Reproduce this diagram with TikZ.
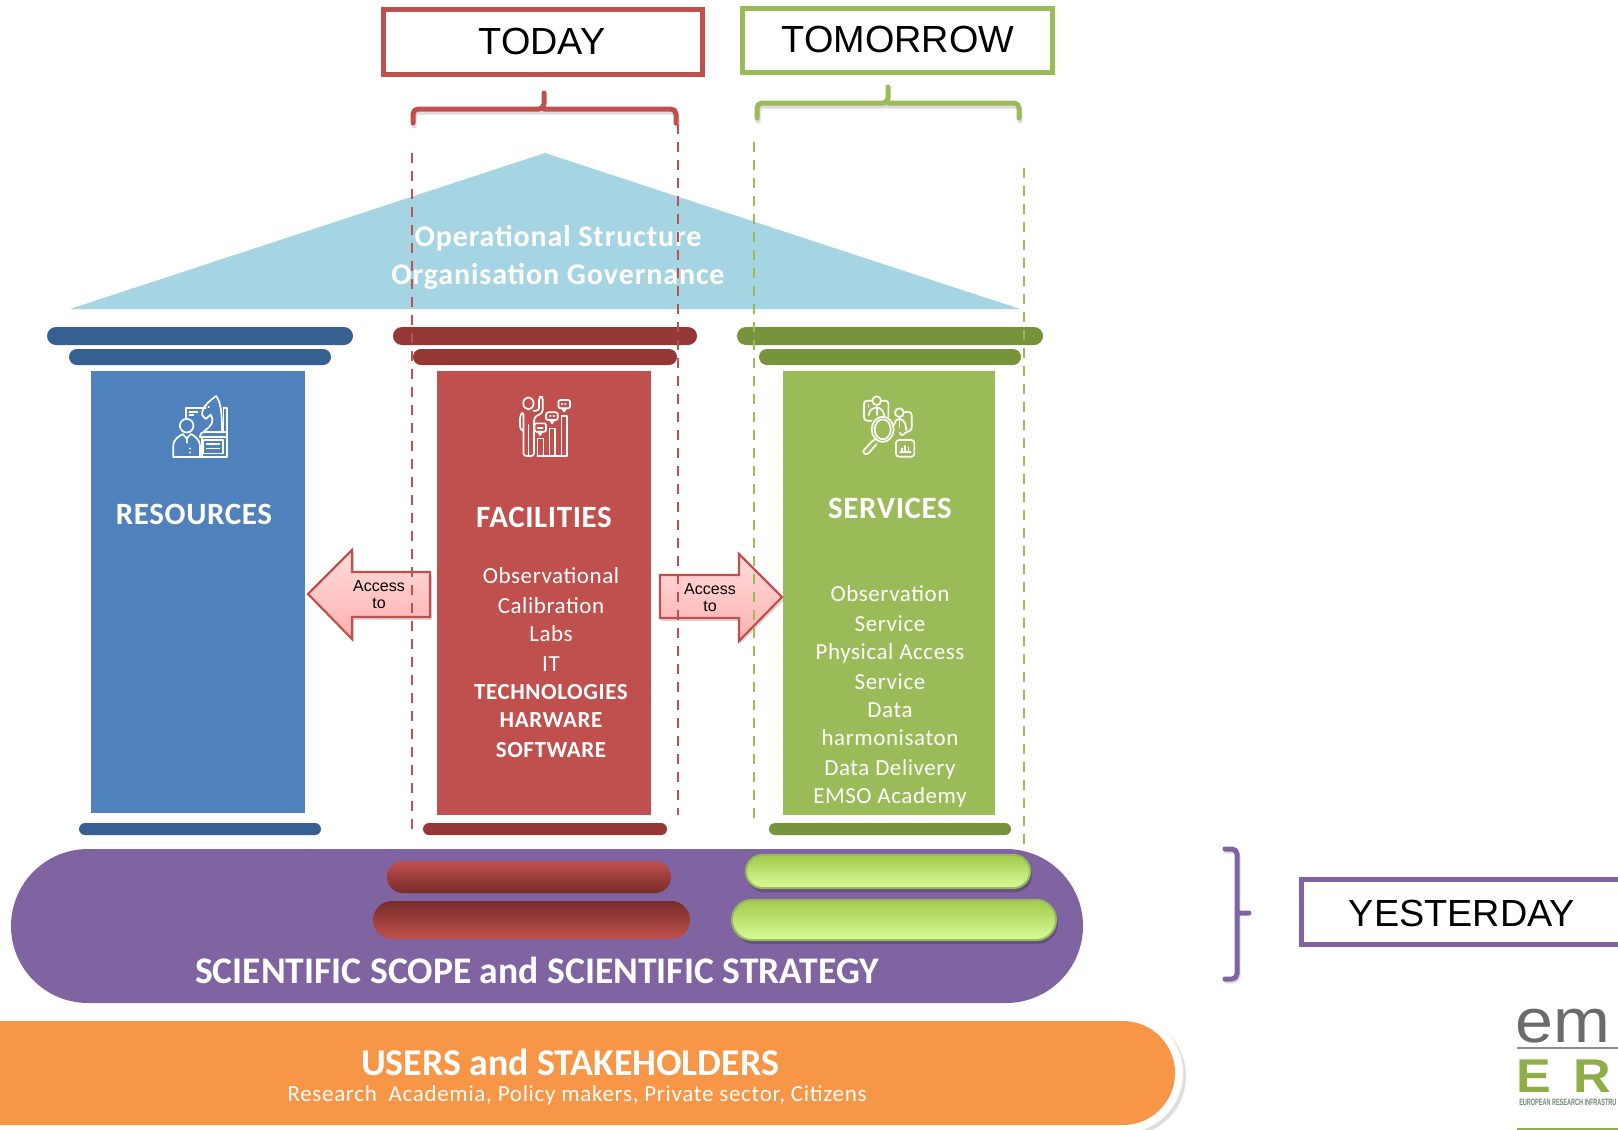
\documentclass[tikz,border=0pt]{standalone}
\usepackage{fontspec}
\setmainfont{Carlito}
\newfontfamily\arialf{Liberation Sans}
\usetikzlibrary{calc}
\definecolor{cblue}{HTML}{4F81BD}
\definecolor{cbluedk}{HTML}{376092}
\definecolor{cred}{HTML}{C0504D}
\definecolor{creddk}{HTML}{953735}
\definecolor{cgreen}{HTML}{9BBB59}
\definecolor{cgreendk}{HTML}{77933C}
\definecolor{cpurple}{HTML}{8064A2}
\definecolor{corange}{HTML}{F79646}
\definecolor{croof}{HTML}{A5D5E2}
\definecolor{arrowtop}{HTML}{FFDCDC}
\definecolor{arrowbot}{HTML}{FFB0B0}
\definecolor{limetop}{HTML}{A2CB4E}
\definecolor{limebot}{HTML}{D8FC98}
\definecolor{redtop}{HTML}{C0504D}
\definecolor{redbot}{HTML}{772C2A}
\definecolor{logogreen}{HTML}{8FAE48}
\definecolor{logosmall}{HTML}{6F8A74}
\newcommand{\pill}[5]{%
  \pgfmathsetmacro{\pillr}{abs(#4-#2)/4}%
  \path[#5,rounded corners=\pillr pt] (#1,#2) rectangle (#3,#4);}
\newcommand{\fs}[1]{\fontsize{#1}{#1}\selectfont}
\tikzset{
  x=0.5pt,y=-0.5pt,
  labelbox/.style={line width=2.5pt,fill=white},
  brace/.style={line width=2.5pt,line cap=round,line join=round,rounded corners=2.5pt},
  braceshadow/.style={brace,draw=black,opacity=0.14},
  guide/.style={line width=0.9pt,dash pattern=on 5pt off 4pt},
  whitetxt/.style={text=white,align=center,inner sep=0pt,font=\fs{11.5}\addfontfeatures{LetterSpace=2.5}},
  boldtxt/.style={text=white,align=center,inner sep=0pt,font=\fs{11.5}\bfseries\addfontfeatures{LetterSpace=2.5}},
  rooftxt/.style={text=white,align=center,inner sep=0pt,font=\fs{15}\bfseries\addfontfeatures{LetterSpace=3}},
  headtxt/.style={text=white,inner sep=0pt,font=\fs{15.5}\bfseries\addfontfeatures{LetterSpace=2}},
  blacktxt/.style={text=black,inner sep=0pt,font=\arialf\fs{18.9}},
  acc/.style={draw=cred,line width=1.1pt,line join=miter,top color=arrowtop,bottom color=arrowbot},
  accshadow/.style={fill=black,opacity=0.15},
  icon/.style={draw=white,line width=0.85pt,line join=round,line cap=round},
  redup/.style={top color=redtop,bottom color=redbot},
  reddn/.style={top color=redbot,bottom color=redtop},
  greenp/.style={draw=cgreen,line width=1pt,top color=limetop,bottom color=limebot},
  pshadow/.style={fill=black,opacity=0.2},
}
\begin{document}
\begin{tikzpicture}
\useasboundingbox (0,0) rectangle (1618,1130);
\clip (0,0) rectangle (1618,1130);
\fill[white] (0,0) rectangle (1618,1130);
% top labels
\draw[labelbox,draw=cred] (383,9) rectangle (702,74);
\node[blacktxt] (today) at (542,41) {TODAY};
\draw[labelbox,draw=cgreen] (742,8) rectangle (1052,72);
\node[blacktxt] (tomorrow) at (898,39) {TOMORROW};
\begin{scope}[shift={(1,3)}]
\draw[braceshadow] (413,123) -- (413,109) -- (676,109) -- (676,123);
\draw[braceshadow] (757,118) -- (757,103) -- (1019,103) -- (1019,118);
\end{scope}
\draw[brace,draw=cred] (413,123) -- (413,109) -- (544,109) -- (544,93) (544,109) -- (676,109) -- (676,123);
\draw[brace,draw=cgreen] (757,118) -- (757,103) -- (888,103) -- (888,87) (888,103) -- (1019,103) -- (1019,118);
% roof
\fill[croof] (70,309) -- (545,153) -- (1020,309) -- cycle;
% columns
\pill{47}{327}{353}{345}{fill=cbluedk}
\pill{69}{349}{331}{365}{fill=cbluedk}
\fill[cblue] (91,371) rectangle (305,813);
\pill{79}{823}{321}{835}{fill=cbluedk}
\pill{393}{327}{697}{345}{fill=creddk}
\pill{413}{349}{677}{365}{fill=creddk}
\fill[cred] (437,371) rectangle (651,815);
\pill{423}{823}{667}{835}{fill=creddk}
\pill{737}{327}{1043}{345}{fill=cgreendk}
\pill{759}{349}{1021}{365}{fill=cgreendk}
\fill[cgreen] (783,371) rectangle (995,815);
\pill{769}{823}{1011}{835}{fill=cgreendk}
% column text
\node[rooftxt] (roofa) at (558,238) {Operational Structure};
\node[rooftxt] (roofb) at (558,276) {Organisation Governance};
\node[headtxt] (res) at (194,514) {RESOURCES};
\node[headtxt] (fac) at (544,517) {FACILITIES};
\node[headtxt] (ser) at (890,508) {SERVICES};
\foreach \t/\y/\n in {Observational/576/a,Calibration/606/b,Labs/634/c,IT/664/d}
  \node[whitetxt] (fac\n) at (551,\y) {\t};
\foreach \t/\y/\n in {TECHNOLOGIES/692/e,HARWARE/720/f,SOFTWARE/750/g}
  \node[boldtxt] (fac\n) at (551,\y) {\t};
\foreach \t/\y/\n in {Observation/594/a,Service/624/b,Physical Access/653/c,Service/682/d,Data/710/e,harmonisaton/738/f,Data Delivery/769/g,EMSO Academy/797/h}
  \node[whitetxt] (ser\n) at (890,\y) {\t};
% arrows
\fill[accshadow] (309,596) -- (354,552) -- (354,575) -- (432,575) -- (432,620) -- (354,620) -- (354,642) -- cycle;
\path[acc] (308,594) -- (352,550) -- (352,572) -- (430,572) -- (430,617) -- (352,617) -- (352,639) -- cycle;
\fill[accshadow] (661,578) -- (740,578) -- (740,556) -- (784,600) -- (740,644) -- (740,621) -- (661,621) -- cycle;
\path[acc] (660,575) -- (739,575) -- (739,554) -- (782,597) -- (739,641) -- (739,618) -- (660,618) -- cycle;
% guides
\draw[guide,draw=cred] (412,153) -- (412,830);
\draw[guide,draw=cred] (678,124) -- (678,815);
\draw[guide,draw=cgreen,line width=0.7pt] (754,142) -- (754,820);
\draw[guide,draw=cgreen,line width=0.7pt] (1024,168) -- (1024,846);
\node[blacktxt,font=\arialf\fs{8},align=center] (accl) at (379,595) {Access\\[0.5pt]to};
\node[blacktxt,font=\arialf\fs{8},align=center] (accr) at (710,598) {Access\\[0.5pt]to};
% purple base
\pill{11}{849}{1083}{1003}{fill=cpurple}
\pill{387}{861}{671}{893}{redup}
\pill{373}{901}{690}{939}{reddn}
\pill{747}{858}{1032}{892}{pshadow}
\pill{734}{903}{1058}{944}{pshadow}
\pill{746}{855}{1030}{888}{greenp}
\pill{732}{900}{1056}{940}{greenp}
\node[text=white,inner sep=0pt,font=\fs{18.8}\bfseries] (sci) at (537,970) {SCIENTIFIC SCOPE and SCIENTIFIC STRATEGY};
% yesterday
\draw[brace,draw=black,opacity=0.12] (1226,851) -- (1238,851) -- (1238,981) -- (1226,981);
\draw[brace,draw=cpurple] (1225,849) -- (1237,849) -- (1237,979) -- (1225,979) (1237,913) -- (1249,913);
\draw[labelbox,draw=cpurple] (1301,879) rectangle (1630,944);
\node[blacktxt] (yest) at (1462,913) {YESTERDAY};
% orange
\pill{-80}{1016}{1186}{1136}{fill=black,opacity=0.13}
\pill{-80}{1013}{1183}{1133}{fill=white}
\pill{-80}{1021}{1175}{1125}{fill=corange}
\node[text=white,inner sep=0pt,font=\fs{18.9}\bfseries] (users) at (570,1062) {USERS and STAKEHOLDERS};
\node[whitetxt,font=\fs{11.5}\addfontfeatures{LetterSpace=3}] (users2) at (577,1095) {Research\ \ Academia, Policy makers, Private sector, Citizens};
% icon 1
\begin{scope}[shift={(140,370)},x=0.1667pt,y=-0.1667pt,icon]
\draw (100,260) -- (260,260) -- (260,113) -- (250,113);
\draw (250,113) -- (250,183);
\draw (185,205) -- (185,260);
\draw (190,210) rectangle (248,250);
\draw (200,222) -- (238,222) (200,235) -- (238,235);
\draw[rounded corners=2pt] (180,200) -- (180,186) -- (260,186);
\draw (180,200) -- (260,200);
\draw (192,183) .. controls (220,165) and (222,148) .. (212,134) -- (197,147) -- (187,136) -- (187,124) .. controls (192,105) and (210,92) .. (228,78) .. controls (240,92) and (246,120) .. (246,183);
\draw (205,112) -- (207,112);
\draw (137,142) -- (137,113) -- (197,113);
\draw (148,125) -- (172,125) (148,136) -- (160,136);
\draw (140,167) circle[radius=3.4pt];
\draw (100,260) -- (100,228) .. controls (100,205) and (120,198) .. (128,192) -- (140,205) -- (153,192) .. controls (165,198) and (180,210) .. (180,228) -- (180,260);
\draw (140,205) -- (140,218);
\draw (150,235) -- (150,236) (150,247) -- (150,248);
\end{scope}
% icon 2
\begin{scope}[shift={(140,370)},x=0.1667pt,y=-0.1667pt,icon]
\draw (1165,100) ellipse[x radius=2.6pt,y radius=3pt];
\draw[rounded corners=1.5pt] (1180,122) -- (1197,122) -- (1197,80) -- (1208,80) -- (1208,128) -- (1182,142) -- (1182,258) -- (1168,258);
\draw[rounded corners=1.5pt] (1168,258) -- (1150,258) -- (1150,125) -- (1140,135) -- (1140,178) -- (1150,183);
\draw (1165,165) -- (1165,258);
\draw (1192,258) -- (1192,205) -- (1210,205) -- (1210,258);
\draw (1228,258) -- (1228,175) -- (1245,175) -- (1245,258);
\draw (1264,258) -- (1264,138) -- (1280,138) -- (1280,258) -- (1192,258);
\draw[rounded corners=1pt] (1255,90) rectangle (1290,115);
\draw (1266,115) -- (1272,124) -- (1278,115);
\draw[rounded corners=1pt] (1218,127) rectangle (1253,150);
\draw (1230,150) -- (1236,160) -- (1242,150);
\draw[rounded corners=1pt] (1183,160) rectangle (1218,185);
\draw (1194,185) -- (1200,195) -- (1206,185);
\draw (1265,102) -- (1267,102) (1275,102) -- (1277,102);
\draw (1230,138) -- (1232,138) (1240,138) -- (1242,138);
\draw (1193,173) -- (1208,173);
\end{scope}
% icon 3
\begin{scope}[shift={(820,380)},x=0.1667pt,y=-0.1667pt,icon]
\draw (188,148) ellipse[x radius=5.5pt,y radius=6.3pt];
\draw (188,148) ellipse[x radius=4pt,y radius=5pt];
\draw (165,178) -- (155,185) -- (130,212) .. controls (130,222) and (138,225) .. (145,220) -- (170,192);
\draw[rounded corners=1.5pt] (228,180) rectangle (283,230);
\draw (240,215) -- (272,215);
\draw (245,215) -- (245,205) (255,215) -- (255,198) (265,215) -- (265,202);
\draw[rounded corners=1.5pt] (155,122) -- (132,122) -- (132,62) -- (155,62);
\draw[rounded corners=1.5pt] (185,62) -- (205,62) -- (205,110);
\draw (170,62) circle[radius=2.2pt];
\draw (146,105) .. controls (148,88) and (160,85) .. (170,82) .. controls (182,85) and (190,90) .. (193,108);
\draw (170,82) -- (170,105);
\draw (145,75) -- (145,80);
\draw (238,98) circle[radius=2.2pt];
\draw (222,135) .. controls (222,125) and (228,120) .. (238,116) .. controls (250,120) and (258,125) .. (258,150);
\draw[rounded corners=1.5pt] (254,96) -- (275,96) -- (275,152) -- (258,155) -- (245,170) -- (240,158);
\draw (238,116) -- (238,140);
\end{scope}
% logo
\node[text=black!58,inner sep=0pt,anchor=base west,xscale=1.1,text depth=0pt,font=\fontspec{Liberation Sans}\fs{31}] (logoa) at (1515,1042) {em};
\draw[black!45,line width=1pt] (1517,1048) -- (1618,1048);
\node[text=logogreen,inner sep=0pt,anchor=base west,xscale=1.1,text depth=0pt,font=\fontspec{Liberation Sans}\fs{23.7}\bfseries\addfontfeatures{LetterSpace=42}] (logob) at (1516,1092) {ER};
\node[text=logosmall,inner sep=0pt,anchor=base west,xscale=0.6,text depth=0pt,font=\fontspec{Liberation Sans}\fs{4.6}\bfseries] (logoc) at (1519,1105) {EUROPEAN RESEARCH INFRASTRU};
\draw[logogreen,line width=1.4pt] (1517,1129) -- (1618,1129);
\end{tikzpicture}
\end{document}
